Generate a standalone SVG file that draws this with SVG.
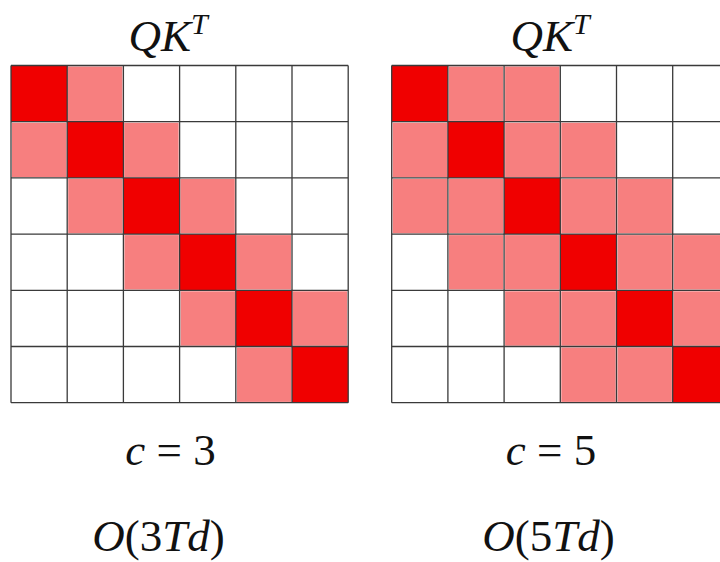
<svg xmlns="http://www.w3.org/2000/svg" width="720" height="562" viewBox="0 0 720 562">
<style>
.d{fill:#f00000}
.l{fill:#f77f7f}
.g{stroke:#3a3a3a;stroke-width:1.3;fill:none}
.t{font-family:"Liberation Serif","DejaVu Serif",serif;font-size:45px;fill:#111;text-anchor:middle}
.i{font-style:italic}
.s{font-size:30px;font-style:italic}
</style>
<rect width="720" height="562" fill="#fff"/>
<g id="left">
<text class="t" x="168" y="51"><tspan class="i">QK</tspan><tspan class="s" dy="-17">T</tspan></text>
<g id="left-cells">
<rect class="d" x="11" y="65.5" width="56.2" height="56.2"/>
<rect class="l" x="68" y="66.5" width="54.4" height="54.4"/>
<rect class="l" x="12" y="122.7" width="54.4" height="54.4"/>
<rect class="d" x="67.2" y="121.7" width="56.2" height="56.2"/>
<rect class="l" x="124.2" y="122.7" width="54.4" height="54.4"/>
<rect class="l" x="68.2" y="178.9" width="54.4" height="54.4"/>
<rect class="d" x="123.4" y="177.9" width="56.2" height="56.2"/>
<rect class="l" x="180.4" y="178.9" width="54.4" height="54.4"/>
<rect class="l" x="124.4" y="235.1" width="54.4" height="54.4"/>
<rect class="d" x="179.6" y="234.1" width="56.2" height="56.2"/>
<rect class="l" x="236.6" y="235.1" width="54.4" height="54.4"/>
<rect class="l" x="180.6" y="291.3" width="54.4" height="54.4"/>
<rect class="d" x="235.8" y="290.3" width="56.2" height="56.2"/>
<rect class="l" x="292.8" y="291.3" width="54.4" height="54.4"/>
<rect class="l" x="236.8" y="347.5" width="54.4" height="54.4"/>
<rect class="d" x="292" y="346.5" width="56.2" height="56.2"/>
</g>
<path class="g" d="M11,65.5H348.2M11,121.7H348.2M11,177.9H348.2M11,234.1H348.2M11,290.3H348.2M11,346.5H348.2M11,402.7H348.2M11,65.5V402.7M67.2,65.5V402.7M123.4,65.5V402.7M179.6,65.5V402.7M235.8,65.5V402.7M292,65.5V402.7M348.2,65.5V402.7"/>
<text class="t" x="170.5" y="465"><tspan class="i">c</tspan> = 3</text>
<text class="t" x="158.5" y="551"><tspan class="i">O</tspan>(3<tspan class="i">Td</tspan>)</text>
</g>
<g id="right">
<text class="t" x="550" y="51"><tspan class="i">QK</tspan><tspan class="s" dy="-17">T</tspan></text>
<g id="right-cells">
<rect class="d" x="391.7" y="65.5" width="56.2" height="56.2"/>
<rect class="l" x="448.9" y="66.5" width="54.4" height="54.4"/>
<rect class="l" x="505.1" y="66.5" width="54.4" height="54.4"/>
<rect class="l" x="392.7" y="122.7" width="54.4" height="54.4"/>
<rect class="d" x="447.9" y="121.7" width="56.2" height="56.2"/>
<rect class="l" x="505.1" y="122.7" width="54.4" height="54.4"/>
<rect class="l" x="561.3" y="122.7" width="54.4" height="54.4"/>
<rect class="l" x="392.7" y="178.9" width="54.4" height="54.4"/>
<rect class="l" x="448.9" y="178.9" width="54.4" height="54.4"/>
<rect class="d" x="504.1" y="177.9" width="56.2" height="56.2"/>
<rect class="l" x="561.3" y="178.9" width="54.4" height="54.4"/>
<rect class="l" x="617.5" y="178.9" width="54.4" height="54.4"/>
<rect class="l" x="448.9" y="235.1" width="54.4" height="54.4"/>
<rect class="l" x="505.1" y="235.1" width="54.4" height="54.4"/>
<rect class="d" x="560.3" y="234.1" width="56.2" height="56.2"/>
<rect class="l" x="617.5" y="235.1" width="54.4" height="54.4"/>
<rect class="l" x="673.7" y="235.1" width="54.4" height="54.4"/>
<rect class="l" x="505.1" y="291.3" width="54.4" height="54.4"/>
<rect class="l" x="561.3" y="291.3" width="54.4" height="54.4"/>
<rect class="d" x="616.5" y="290.3" width="56.2" height="56.2"/>
<rect class="l" x="673.7" y="291.3" width="54.4" height="54.4"/>
<rect class="l" x="561.3" y="347.5" width="54.4" height="54.4"/>
<rect class="l" x="617.5" y="347.5" width="54.4" height="54.4"/>
<rect class="d" x="672.7" y="346.5" width="56.2" height="56.2"/>
</g>
<path class="g" d="M391.7,65.5H728.9M391.7,121.7H728.9M391.7,177.9H728.9M391.7,234.1H728.9M391.7,290.3H728.9M391.7,346.5H728.9M391.7,402.7H728.9M391.7,65.5V402.7M447.9,65.5V402.7M504.1,65.5V402.7M560.3,65.5V402.7M616.5,65.5V402.7M672.7,65.5V402.7"/>
<text class="t" x="551" y="465"><tspan class="i">c</tspan> = 5</text>
<text class="t" x="548.5" y="551"><tspan class="i">O</tspan>(5<tspan class="i">Td</tspan>)</text>
</g>
</svg>
